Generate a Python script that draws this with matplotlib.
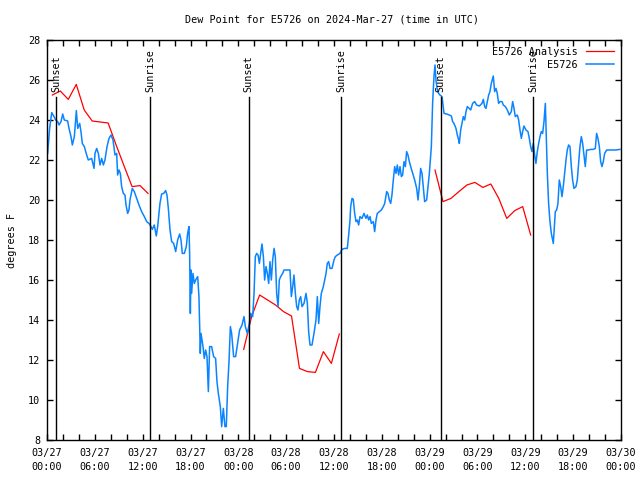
import numpy as np
import matplotlib
matplotlib.use("Agg")
import matplotlib.pyplot as plt
from matplotlib.ticker import FixedLocator

# ---- data (hours since 2024-03-27 00:00 UTC, dew point in F) ----
obs_hours = [
    0.08, 0.33, 0.59, 0.84, 1.09, 1.34, 1.51, 1.76, 1.97, 2.17, 2.59, 2.76, 3.01, 3.18, 3.43, 3.68,
    3.85, 4.10, 4.26, 4.43, 4.68, 4.98, 5.18, 5.60, 5.90, 6.02, 6.23, 6.44, 6.65, 6.86, 7.07, 7.27,
    7.53, 7.78, 8.03, 8.28, 8.53, 8.74, 8.86, 9.03, 9.20, 9.36, 9.57, 9.78, 9.91, 10.12, 10.28, 10.41,
    10.70, 10.95, 11.25, 11.54, 11.87, 12.21, 12.50, 12.79, 13.04, 13.21, 13.46, 13.71, 13.88, 14.17,
    14.38, 14.63, 14.88, 15.05, 15.22, 15.43, 15.64, 15.89, 16.14, 16.39, 16.64, 16.81, 16.97, 17.22,
    17.47, 17.64, 17.81, 17.89, 17.98, 18.06, 18.14, 18.31, 18.48, 18.65, 18.90, 19.06, 19.23, 19.32,
    19.57, 19.73, 19.90, 20.07, 20.24, 20.40, 20.65, 20.90, 21.15, 21.32, 21.49, 21.74, 21.91, 22.12,
    22.32, 22.49, 22.66, 22.83, 23.00, 23.16, 23.41, 23.66, 23.91, 24.16,
    24.46, 24.71, 24.88, 25.13, 25.38, 25.55, 25.80, 25.97, 26.13, 26.30, 26.47, 26.64, 26.80, 26.97,
    27.14, 27.30, 27.47, 27.64, 27.81, 27.97, 28.14, 28.31, 28.48, 28.64, 28.81, 28.98, 29.14, 29.31,
    29.56, 29.73, 30.48, 30.65, 30.82, 30.98, 31.15, 31.32, 31.48, 31.65, 31.82, 31.99, 32.24, 32.49,
    32.66, 32.82, 32.99, 33.24, 33.49, 33.74, 33.91, 34.08, 34.24, 34.41, 34.66, 34.83, 35.00, 35.16,
    35.33, 35.50, 35.75, 36.00, 36.17, 36.42, 36.75, 37.00, 37.34, 37.67, 37.84, 38.01, 38.09, 38.26,
    38.42, 38.59, 38.76, 38.93, 39.09, 39.26, 39.51, 39.76, 40.01, 40.18, 40.35, 40.52, 40.68, 40.93,
    41.10, 41.27, 41.43, 41.69, 41.94, 42.19, 42.36, 42.61, 42.77, 42.94, 43.11, 43.27, 43.44, 43.61,
    43.78, 43.94, 44.11, 44.28, 44.45, 44.61, 44.78, 44.95, 45.11, 45.28, 45.45, 45.62, 45.87, 46.12,
    46.37, 46.54, 46.70, 46.87, 47.04, 47.20, 47.37, 47.62, 47.79, 47.96,
    48.21, 48.37, 48.54, 48.67, 48.79, 48.96, 49.13, 49.29, 49.55, 49.80, 50.13, 50.46, 50.72, 50.88,
    51.05, 51.30, 51.47, 51.64, 51.72, 51.89, 52.05, 52.22, 52.39, 52.56, 52.72, 52.97, 53.14, 53.39,
    53.64, 53.89, 54.23, 54.56, 54.73, 54.90, 55.06, 55.23, 55.40, 55.56, 55.73, 55.90, 55.98, 56.15,
    56.32, 56.48, 56.65, 56.82, 57.07, 57.24, 57.49, 57.74, 57.99, 58.24, 58.41, 58.58, 58.74, 58.99,
    59.16, 59.33, 59.50, 59.66, 59.83, 60.08, 60.33, 60.50, 60.67, 60.83, 61.00, 61.17, 61.33, 61.50,
    61.67, 61.84, 62.00, 62.17, 62.34, 62.51, 62.67, 62.76, 62.92, 63.09, 63.26, 63.42, 63.51, 63.59,
    63.76, 63.93, 64.09, 64.26, 64.43, 64.60, 64.76, 64.93, 65.10, 65.26, 65.43, 65.60, 65.77, 65.93,
    66.10, 66.35, 66.52, 66.69, 66.85, 67.02, 67.19, 67.35, 67.52, 67.69, 67.94, 68.19, 68.53, 68.78,
    68.94, 69.11, 69.28, 69.45, 69.61, 69.78, 69.95, 70.20, 70.62, 71.29, 71.87,
]
obs_dewpt = [
    22.33, 23.58, 24.37, 24.20, 24.00, 23.92, 23.75, 23.92, 24.30, 24.00, 23.95, 23.58, 23.17, 22.75, 23.17, 24.47,
    23.58, 23.83, 23.42, 22.83, 22.67, 22.25, 22.00, 22.08, 21.58, 22.33, 22.58, 22.33, 21.75, 22.08, 21.75, 22.00,
    22.67, 23.08, 23.25, 23.00, 22.25, 22.33, 21.25, 21.50, 21.33, 20.67, 20.33, 20.25, 19.75, 19.33, 19.50, 20.00,
    20.58, 20.42, 20.08, 19.75, 19.42, 19.17, 18.92, 18.83, 18.67, 18.53, 18.75, 18.20, 18.67, 19.83,
    20.30, 20.33, 20.47, 20.25, 19.58, 18.50, 17.92, 17.83, 17.42, 18.00, 18.30, 18.00, 17.33, 17.33,
    17.67, 18.33, 18.67, 17.33, 14.33, 16.50, 15.33, 16.33, 15.83, 16.00, 16.17, 15.17, 12.33, 13.33,
    12.67, 12.08, 12.50, 12.17, 10.42, 12.67, 12.67, 12.17, 12.08, 10.92, 10.33, 9.67, 8.67, 9.58,
    8.67, 8.67, 10.67, 11.92, 13.67, 13.33, 12.17, 12.17, 12.83, 13.50,
    13.75, 14.17, 13.67, 13.33, 13.83, 14.33, 14.17, 15.33, 17.17, 17.33, 17.25, 16.83, 17.33, 17.80,
    17.17, 16.00, 16.67, 16.33, 15.83, 16.92, 16.00, 17.00, 17.58, 17.17, 15.33, 14.67, 16.00, 16.17,
    16.33, 16.50, 16.50, 15.17, 15.67, 16.25, 15.33, 14.67, 14.50, 15.00, 15.17, 14.67, 14.83, 15.33,
    14.83, 13.42, 12.75, 12.75, 13.33, 14.00, 15.17, 13.83, 14.67, 15.33, 15.67, 16.00, 16.33, 16.83,
    16.92, 16.58, 16.58, 17.00, 17.17, 17.25, 17.33, 17.53, 17.58, 17.58, 18.25, 19.00, 19.67, 20.08,
    20.03, 19.33, 18.92, 19.00, 18.75, 19.17, 19.08, 19.33, 19.08, 19.25, 19.00, 19.17, 18.83, 18.92,
    18.42, 19.00, 19.33, 19.42, 19.50, 19.67, 19.83, 20.42, 20.33, 20.00, 19.83, 20.25, 21.00, 21.67,
    21.33, 21.75, 21.25, 21.67, 21.17, 21.25, 21.92, 21.67, 22.42, 22.25, 21.92, 21.67, 21.33, 21.00,
    20.58, 20.00, 20.67, 21.58, 21.33, 20.67, 19.92, 20.00, 20.67, 21.33,
    22.67, 24.83, 26.17, 26.75, 26.00, 25.50, 25.33, 25.25, 25.17, 24.33, 24.30, 24.25, 24.20, 23.92,
    23.83, 23.58, 23.25, 23.00, 22.83, 23.50, 23.83, 24.17, 24.00, 24.42, 24.67, 24.58, 24.50, 24.83,
    24.92, 24.75, 24.70, 24.83, 25.03, 24.67, 24.58, 24.92, 25.25, 25.42, 25.83, 26.08, 26.20, 25.42,
    25.58, 25.33, 24.83, 24.92, 24.92, 24.75, 24.67, 24.50, 24.25, 24.42, 24.92, 24.58, 24.17, 24.25,
    24.00, 23.50, 23.08, 23.42, 23.70, 23.50, 23.42, 23.08, 22.67, 22.42, 22.83, 22.25, 21.83, 22.42,
    22.83, 23.17, 23.42, 23.33, 23.92, 24.83, 22.67, 21.33, 19.83, 18.92, 18.33, 18.00, 17.83, 18.33,
    19.42, 19.50, 19.83, 21.00, 20.67, 20.17, 20.67, 21.33, 22.00, 22.50, 22.75, 22.67, 21.67, 21.00,
    20.58, 20.67, 21.00, 21.83, 22.67, 23.17, 22.83, 22.25, 21.67, 22.50, 22.50, 22.53, 22.53, 22.58,
    23.33, 23.08, 22.67, 21.92, 21.67, 21.92, 22.33, 22.50, 22.50, 22.50, 22.53,
]

# Analysis series: three separate runs
ana1_hours = [0.67 + k for k in range(13)]
ana1_dewpt = [25.25, 25.45, 25.03, 25.78, 24.50, 23.95, 23.90, 23.85, 22.75, 21.70, 20.67, 20.72, 20.33]
ana2_hours = [24.67 + k for k in range(13)]
ana2_dewpt = [12.53, 14.17, 15.25, 15.00, 14.75, 14.42, 14.20, 11.58, 11.42, 11.38, 12.42, 11.83, 13.30]
ana3_hours = [48.67 + k for k in range(13)]
ana3_dewpt = [21.50, 19.92, 20.08, 20.42, 20.75, 20.88, 20.63, 20.80, 20.08, 19.08, 19.47, 19.67, 18.25]

sun_events = ["Sunset", "Sunrise", "Sunset", "Sunrise", "Sunset", "Sunrise"]
sun_hours = [1.18, 12.97, 25.28, 36.93, 49.38, 60.95]

tick_labels = ["03/27\n00:00", "03/27\n06:00", "03/27\n12:00", "03/27\n18:00",
               "03/28\n00:00", "03/28\n06:00", "03/28\n12:00", "03/28\n18:00",
               "03/29\n00:00", "03/29\n06:00", "03/29\n12:00", "03/29\n18:00",
               "03/30\n00:00"]

title = "Dew Point for E5726 on 2024-Mar-27 (time in UTC)"

# ---- plotting ----
FONT = "DejaVu Sans Mono"
FS = 7.3
plt.rcParams["font.family"] = [FONT, "DejaVu Sans"]

fig = plt.figure(figsize=(6.4, 4.8), dpi=100)
ax = fig.add_axes([47 / 640, 40 / 480, 574 / 640, 400 / 480])

red = "#ff0000"
blue = "#0a84ff"

ax.plot(ana1_hours, ana1_dewpt, color=red, lw=0.9, label="E5726 Analysis")
ax.plot(ana2_hours, ana2_dewpt, color=red, lw=0.9)
ax.plot(ana3_hours, ana3_dewpt, color=red, lw=0.9)
ax.plot(obs_hours, obs_dewpt, color=blue, lw=1.1, label="E5726")

for name, h in zip(sun_events, sun_hours):
    ax.plot([h, h], [8, 25.15], color="black", lw=1.0)
    ax.text(h, 25.4, name, rotation=90, ha="center", va="bottom",
            fontsize=FS, family=FONT)

ax.set_xlim(0, 72)
ax.set_ylim(8, 28)

ax.xaxis.set_major_locator(FixedLocator(np.arange(0, 73, 2)))
xt_labels = []
for i, v in enumerate(np.arange(0, 73, 2)):
    xt_labels.append(tick_labels[i // 3] if i % 3 == 0 else "")
ax.set_xticklabels(xt_labels, fontsize=FS, family=FONT, linespacing=1.45)
ax.set_yticks(np.arange(8, 29, 2))
ax.set_yticklabels([str(v) for v in range(8, 29, 2)], fontsize=FS, family=FONT)

ax.tick_params(direction="in", length=4, width=1, top=True, right=True,
               colors="black", pad=5)
ax.tick_params(axis="x", pad=6)
for s in ax.spines.values():
    s.set_linewidth(1.0)
    s.set_color("black")

ax.set_ylabel("degrees F", fontsize=FS, family=FONT, labelpad=8)
fig.text(332 / 640, 1 - 19 / 480, title, ha="center", va="center",
         fontsize=FS, family=FONT)

leg = ax.legend(loc="upper right", frameon=False, markerfirst=False,
                handlelength=2.8, labelspacing=0.3,
                borderaxespad=0.25, handletextpad=0.8,
                prop={"family": FONT, "size": FS})
for t in leg.get_texts():
    t.set_ha("right")

fig.savefig("out.png", dpi=100)
